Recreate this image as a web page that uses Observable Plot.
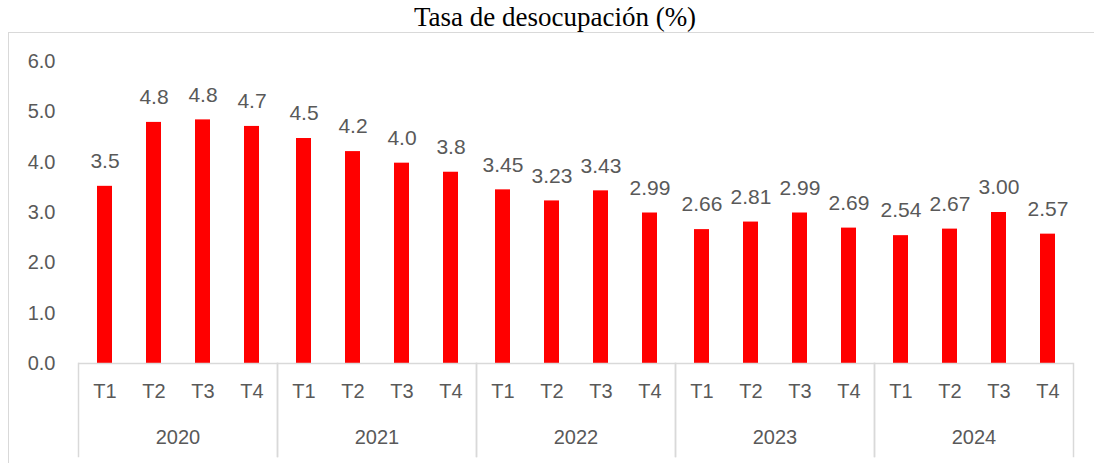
<!DOCTYPE html>
<html>
<head>
<meta charset="utf-8">
<script src="https://cdn.jsdelivr.net/npm/d3@7"></script>
<script src="https://cdn.jsdelivr.net/npm/@observablehq/plot@0.6"></script>
<style>
  html, body { margin: 0; padding: 0; background: #fff; }
  #title { height: 32px; line-height: 34px; text-align: center; padding-left: 16px; font-family: "Liberation Serif", serif; font-size: 27px; color: #000; white-space: nowrap; }
  #frame { position: relative; margin-left: 8px; width: 1085px; border: 1px solid #d9d9d9; border-bottom: none; height: 440px; }
  #frame svg { display: block; }
</style>
</head>
<body>
<div id="title">Tasa de desocupación (%)</div>
<div id="frame"></div>
<script>
const years = ["2020", "2021", "2022", "2023", "2024"];
const quarters = ["T1", "T2", "T3", "T4"];
const rates = [3.52, 4.79, 4.84, 4.71, 4.47, 4.21, 3.98, 3.80, 3.45, 3.23, 3.43, 2.99, 2.66, 2.81, 2.99, 2.69, 2.54, 2.67, 3.00, 2.57];
const rateLabels = ["3.5", "4.8", "4.8", "4.7", "4.5", "4.2", "4.0", "3.8", "3.45", "3.23", "3.43", "2.99", "2.66", "2.81", "2.99", "2.69", "2.54", "2.67", "3.00", "2.57"];
const yTicks = [0, 1, 2, 3, 4, 5, 6];

const data = rates.map((v, i) => ({year: years[Math.floor(i / 4)], q: quarters[i % 4], v, label: rateLabels[i]}));

const grey = "#595959";
const line = "#d9d9d9";

const chart = Plot.plot({
  width: 1085,
  height: 431,
  marginLeft: 69,
  marginRight: 21,
  marginTop: 28,
  marginBottom: 101,
  style: {fontFamily: "'Liberation Sans', Arial, sans-serif", fontSize: "20px", color: grey, background: "white", overflow: "visible"},
  fx: {domain: years, padding: 0, axis: "bottom", tickSize: 0, tickPadding: 66, label: null},
  x: {domain: quarters, paddingInner: 0.7, paddingOuter: 0.35, axis: "bottom", tickSize: 0, tickPadding: 20, label: null},
  y: {domain: [0, 6], ticks: yTicks, tickFormat: d3.format(".1f"), tickSize: 0, tickPadding: 23, label: null},
  marks: [
    Plot.barY(data, {fx: "year", x: "q", y: "v", fill: "#ff0000"}),
    Plot.text(data, {fx: "year", x: "q", y: "v", text: "label", dy: -25, fill: grey, fontSize: 21}),
    Plot.ruleY([0], {stroke: line, strokeWidth: 1.5}),
    Plot.frame({anchor: "left", stroke: line, strokeWidth: 1.5, insetTop: 302, insetBottom: -93}),
    Plot.frame({anchor: "right", stroke: line, strokeWidth: 1.5, insetTop: 302, insetBottom: -93})
  ]
});
document.getElementById("frame").appendChild(chart);
</script>
</body>
</html>
